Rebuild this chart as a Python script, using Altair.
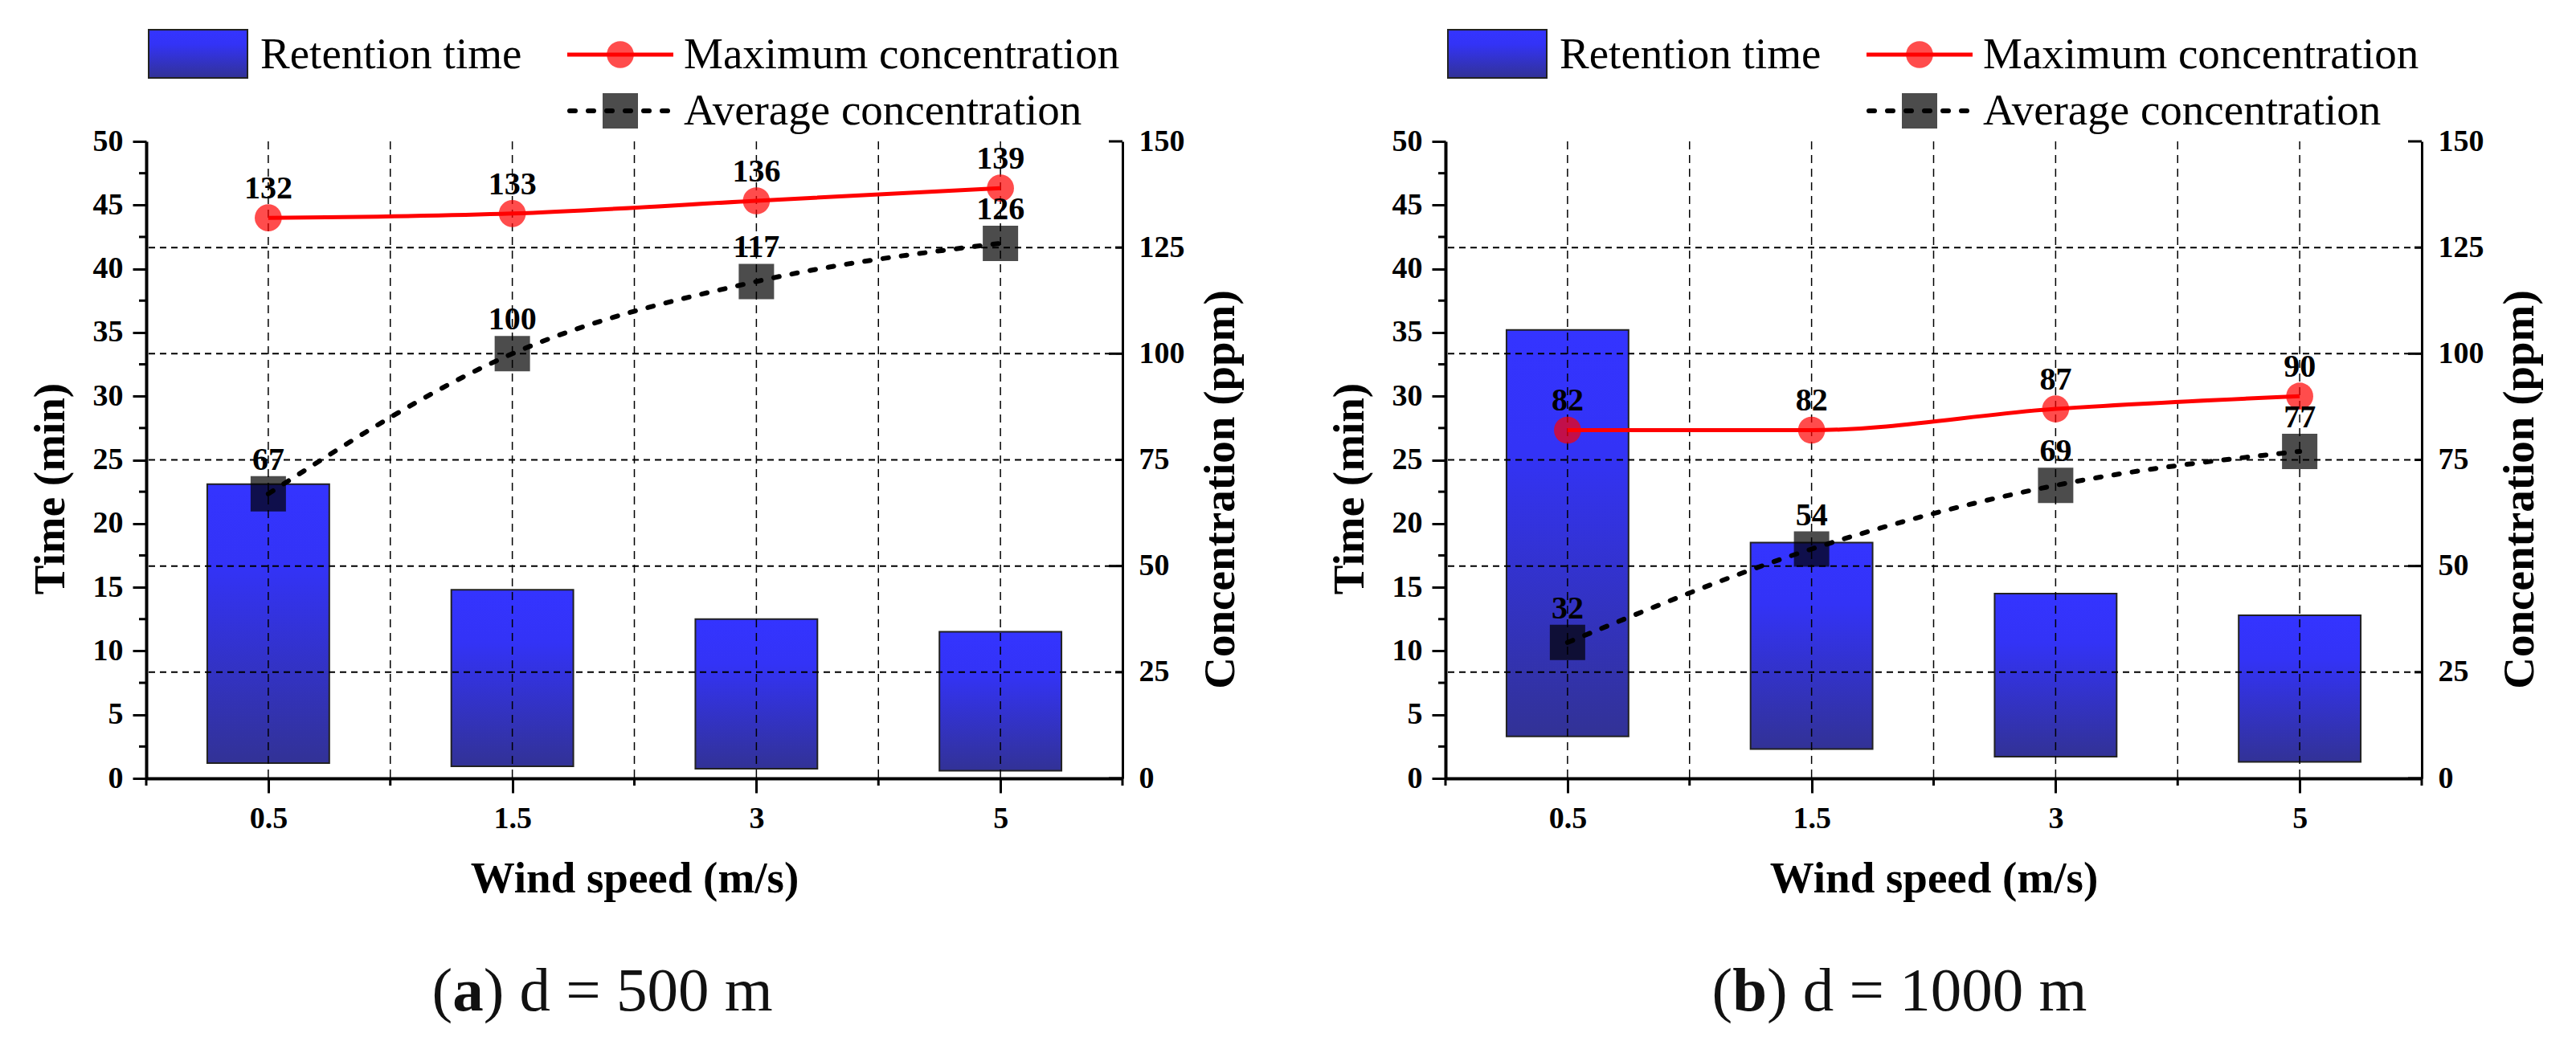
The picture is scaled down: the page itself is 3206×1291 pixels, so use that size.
import altair as alt
import pandas as pd

FONT = "Liberation Serif"

# ---------------- data ----------------
wind_labels = ["0.5", "1.5", "3", "5"]
series_names = ["Retention time", "Maximum concentration", "Average concentration"]
axis_titles = ["Wind speed (m/s)", "Time (min)", "Concentration (ppm)"]

# panel (a)  d = 500 m
time_top_a = [23.1, 14.8, 12.5, 11.5]
time_bottom_a = [1.2, 0.95, 0.75, 0.6]
max_conc_a = [132, 133, 136, 139]
avg_conc_a = [67, 100, 117, 126]

# panel (b)  d = 1000 m
time_top_b = [35.2, 18.5, 14.5, 12.8]
time_bottom_b = [3.3, 2.3, 1.7, 1.3]
max_conc_b = [82, 82, 87, 90]
avg_conc_b = [32, 54, 69, 77]

caption_letters = ["a", "b"]
caption_rests = [") d = 500 m", ") d = 1000 m"]

time_domain = [0, 50]
conc_domain = [0, 150]
time_major = [i * 5 for i in range(11)]
time_minor = [i * 5 + 2.5 for i in range(10)]
conc_ticks = [i * 25 for i in range(7)]

# ---------------- style ----------------
W, H = 1215, 793
N = len(wind_labels)
x_major = list(range(N))
x_minor = [i - 0.5 for i in range(N + 1)]

x_label_expr = "''"
for i in reversed(range(N)):
    x_label_expr = f"datum.value === {i} ? '{wind_labels[i]}' : ({x_label_expr})"

GRAD = alt.LinearGradient(
    gradient="linear",
    stops=[
        alt.GradientStop(color="#3434ff", offset=0),
        alt.GradientStop(color="#3333f6", offset=0.3),
        alt.GradientStop(color="#323296", offset=1),
    ],
    x1=0, x2=0, y1=0, y2=1,
)
RED = "#ff0000"
CAP_FS = 77
AVG_DASH = [7, 16]


def panel(top, bottom, mx, avg, letter, rest, cap_total):
    df = pd.DataFrame({
        "idx": list(range(N)), "wind": wind_labels,
        "top": top, "bottom": bottom, "maxc": mx, "avgc": avg,
    })
    xsc = alt.Scale(domain=[-0.5, N - 0.5], nice=False, zero=False)
    tsc = alt.Scale(domain=time_domain, nice=False, zero=False)
    csc = alt.Scale(domain=conc_domain, nice=False, zero=False)

    x_axis = alt.Axis(
        orient="bottom", values=x_major, labelExpr=x_label_expr,
        tickSize=18, labelPadding=13, domainWidth=4, labelOverlap=False, labelFlush=False,
        titleY=141, titleBaseline="alphabetic",
    )
    left_axis = alt.Axis(
        orient="left", values=time_major, format="d",
        tickSize=17, labelPadding=12, domainWidth=4, labelOverlap=False, labelFlush=False,
        titleAngle=270, titleX=-103, titleY=432, titleBaseline="alphabetic",
    )
    right_axis = alt.Axis(
        orient="right", values=conc_ticks, format="d",
        tickSize=1, tickColor="transparent", labelPadding=19, domainWidth=3,
        labelOverlap=False, labelFlush=False,
        titleAngle=270, titleX=138, titleY=433, titleBaseline="alphabetic",
    )

    def X(field):
        return alt.X(field, scale=xsc, axis=x_axis, title=axis_titles[0])

    def YC(field):
        return alt.Y(field, scale=csc, axis=right_axis, title=axis_titles[2])

    base = alt.Chart(df)
    bars = base.transform_calculate(
        x0="datum.idx - 0.25", x1="datum.idx + 0.25"
    ).mark_bar(fill=GRAD, stroke="#222222", strokeWidth=2).encode(
        x=X("x0:Q"),
        x2="x1:Q",
        y=alt.Y("top:Q", scale=tsc, axis=left_axis, title=axis_titles[1]),
        y2="bottom:Q",
    )
    # short ticks of the left axis between major ticks (own, hidden scale)
    tminor = alt.Chart(pd.DataFrame({"t": time_minor})).mark_rule(color="black", strokeWidth=3).encode(
        y=alt.Y("t:Q", scale=tsc, axis=None), x=alt.value(-9), x2=alt.value(0)
    )

    grid_df = pd.DataFrame({"g": x_major + x_minor[1:-1]})
    vgrid = alt.Chart(grid_df).mark_rule(
        color="black", strokeWidth=1.5, strokeDash=[10, 7]
    ).encode(x=X("g:Q"))
    # short ticks of the x axis between categories
    xminor = alt.Chart(pd.DataFrame({"g": x_minor})).mark_rule(color="black", strokeWidth=3).encode(
        x=X("g:Q"), y=alt.value(H), y2=alt.value(H + 9)
    )

    tick_df = pd.DataFrame({"c": conc_ticks})
    hgrid = alt.Chart(tick_df).transform_filter(
        "datum.c > 0 && datum.c < 150"
    ).mark_rule(color="black", strokeWidth=2, strokeDash=[8, 6]).encode(y=YC("c:Q"))
    rt_major = alt.Chart(tick_df).transform_filter("datum.c % 50 === 0").mark_rule(
        color="black", strokeWidth=3
    ).encode(y=YC("c:Q"), x=alt.value(W - 17), x2=alt.value(W))
    rt_minor = alt.Chart(tick_df).transform_filter("datum.c % 50 !== 0").mark_rule(
        color="black", strokeWidth=3
    ).encode(y=YC("c:Q"), x=alt.value(W - 9), x2=alt.value(W))

    circles = base.mark_point(shape="circle", filled=True, size=1134, color=RED, opacity=0.7).encode(
        x=X("idx:Q"), y=YC("maxc:Q")
    )
    squares = base.mark_point(shape="square", filled=True, size=1936, color="black", opacity=0.7).encode(
        x=X("idx:Q"), y=YC("avgc:Q")
    )
    line_max = base.mark_line(color=RED, strokeWidth=5, interpolate="monotone").encode(
        x=X("idx:Q"), y=YC("maxc:Q")
    )
    line_avg = base.mark_line(color="black", strokeWidth=6, strokeDash=AVG_DASH, strokeCap="round",
                              interpolate="monotone").encode(
        x=X("idx:Q"), y=YC("avgc:Q")
    )
    lab_max = base.mark_text(font=FONT, fontWeight="bold", fontSize=40, baseline="alphabetic",
                             dy=-24, color="black").encode(
        x=X("idx:Q"), y=YC("maxc:Q"), text="maxc:Q"
    )
    lab_avg = base.mark_text(font=FONT, fontWeight="bold", fontSize=40, baseline="alphabetic",
                             dy=-30, color="black").encode(
        x=X("idx:Q"), y=YC("avgc:Q"), text="avgc:Q"
    )
    conc_group = alt.layer(hgrid, rt_major, rt_minor, circles, squares, line_max, line_avg, lab_max, lab_avg)

    # ---- legend ----
    def one(name):
        return alt.Chart(pd.DataFrame({"name": [name]}))

    leg = [
        one(series_names[0]).mark_rect(fill=GRAD, stroke="#222222", strokeWidth=2).encode(
            x=alt.value(3), x2=alt.value(126), y=alt.value(-139), y2=alt.value(-79)),
        one(series_names[0]).mark_text(font=FONT, fontSize=55, align="left", baseline="alphabetic",
                                       color="black").encode(
            x=alt.value(142), y=alt.value(-91), text="name:N"),
        one(series_names[1]).mark_rule(color=RED, strokeWidth=5).encode(
            x=alt.value(524), x2=alt.value(656), y=alt.value(-108)),
        one(series_names[1]).mark_point(shape="circle", filled=True, size=1134, color=RED, opacity=0.7).encode(
            x=alt.value(590), y=alt.value(-108)),
        one(series_names[1]).mark_text(font=FONT, fontSize=55, align="left", baseline="alphabetic",
                                       color="black").encode(
            x=alt.value(669), y=alt.value(-91), text="name:N"),
        one(series_names[2]).mark_rule(color="black", strokeWidth=6, strokeDash=AVG_DASH, strokeCap="round").encode(
            x=alt.value(527), x2=alt.value(656), y=alt.value(-38)),
        one(series_names[2]).mark_point(shape="square", filled=True, size=1936, color="black", opacity=0.7).encode(
            x=alt.value(590), y=alt.value(-38)),
        one(series_names[2]).mark_text(font=FONT, fontSize=55, align="left", baseline="alphabetic",
                                       color="black").encode(
            x=alt.value(669), y=alt.value(-21), text="name:N"),
    ]

    # ---- caption "(x) d = ... m" ----
    paren_w = 0.333 * CAP_FS
    letter_w = (0.5 if letter == "a" else 0.556) * CAP_FS
    start = 567 - cap_total / 2
    xl = start + paren_w + letter_w / 2
    cap_y = 1082
    cap = [
        alt.Chart(pd.DataFrame({"t": ["("]})).mark_text(font=FONT, fontSize=CAP_FS, align="right",
                                                        baseline="alphabetic", color="#111111").encode(
            x=alt.value(xl - letter_w / 2), y=alt.value(cap_y), text="t:N"),
        alt.Chart(pd.DataFrame({"t": [letter]})).mark_text(font=FONT, fontSize=CAP_FS, fontWeight="bold",
                                                           align="center", baseline="alphabetic",
                                                           color="#111111").encode(
            x=alt.value(xl), y=alt.value(cap_y), text="t:N"),
        alt.Chart(pd.DataFrame({"t": [rest]})).mark_text(font=FONT, fontSize=CAP_FS, align="left",
                                                         baseline="alphabetic", color="#111111").encode(
            x=alt.value(xl + letter_w / 2), y=alt.value(cap_y), text="t:N"),
    ]

    return alt.layer(bars, tminor, vgrid, xminor, conc_group, *leg, *cap).resolve_scale(
        y="independent"
    ).properties(width=W, height=H)


pa = panel(time_top_a, time_bottom_a, max_conc_a, avg_conc_a, caption_letters[0], caption_rests[0], 423)
pb = panel(time_top_b, time_bottom_b, max_conc_b, avg_conc_b, caption_letters[1], caption_rests[1], 471)

chart = alt.hconcat(pa, pb, spacing=106).properties(
    padding={"left": 27, "top": 28, "right": 5, "bottom": 5},
    background="white",
).configure_view(stroke=None).configure_axis(
    labelFont=FONT, labelFontSize=38, labelFontWeight="bold", labelColor="black",
    titleFont=FONT, titleFontSize=55, titleFontWeight="bold", titleColor="black",
    domainColor="black", tickColor="black", tickWidth=3, grid=False,
)

chart.save("out.html", embed_options={"renderer": "svg", "actions": False})
